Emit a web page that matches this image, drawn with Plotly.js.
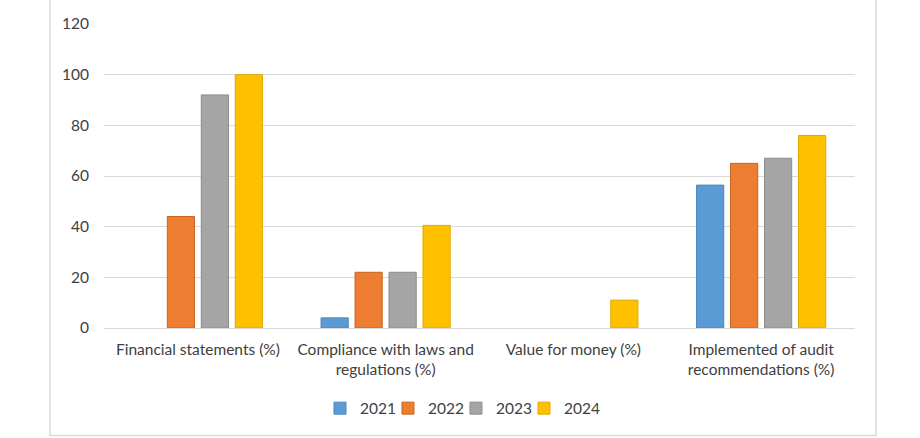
<!DOCTYPE html>
<html>
<head>
<meta charset="utf-8">
<script src="https://cdn.plot.ly/plotly-3.0.1.min.js"></script>
<style>
html,body{margin:0;padding:0;background:#fff;}
#chart{width:920px;height:438px;}
</style>
</head>
<body>
<div id="chart"></div>
<script>
const categories = [
  "Financial statements (%)",
  "Compliance with laws and<br>regulations (%)",
  "Value for money (%)",
  "Implemented of audit<br>recommendations (%)"
];
const years = ["2021", "2022", "2023", "2024"];
const values2021 = [null, 4, null, 56.4];
const values2022 = [44, 22, null, 65];
const values2023 = [92, 22, null, 67];
const values2024 = [100, 40.5, 11, 76];
const yTicks = [0, 20, 40, 60, 80, 100, 120];

const colors = ["#5B9BD5", "#ED7D31", "#A5A5A5", "#FFC000"];
const edges = ["#4A86BE", "#C8651F", "#8C8C8C", "#E0A800"];
const series = [values2021, values2022, values2023, values2024];

const traces = series.map((vals, i) => ({
  type: "bar",
  name: years[i],
  x: categories,
  y: vals,
  legendwidth: i === series.length - 1 ? 44 : 23,
  marker: {color: colors[i], line: {color: edges[i], width: 1}},
  hoverinfo: "x+y+name"
}));

const font = {family: "Lato, 'Open Sans', sans-serif", size: 15.5, color: "#404040"};

const layout = {
  width: 920,
  height: 438,
  margin: {l: 104, r: 65, t: 24, b: 110},
  paper_bgcolor: "#ffffff",
  plot_bgcolor: "#ffffff",
  font: font,
  barmode: "group",
  bargap: 0.276,
  bargroupgap: 0.2,
  showlegend: true,
  legend: {
    orientation: "h",
    x: 0.2876, xanchor: "left",
    y: -0.265, yanchor: "middle",
    font: font,
    itemwidth: 30,
    traceorder: "normal"
  },
  xaxis: {
    type: "category",
    showgrid: false,
    zeroline: false,
    showline: false,
    ticks: "",
    tickfont: font,
    ticklabelstandoff: 10
  },
  yaxis: {
    range: [0, 120],
    tickvals: yTicks,
    ticktext: yTicks.map(String),
    showgrid: true,
    gridcolor: "#d9d9d9",
    gridwidth: 1,
    zeroline: true,
    zerolinecolor: "#d9d9d9",
    zerolinewidth: 1,
    showline: false,
    ticks: "",
    tickfont: font,
    ticklabelstandoff: 14
  },
  shapes: [{
    type: "rect",
    xref: "paper", yref: "paper",
    x0: -0.0719, x1: 1.028,
    y0: -0.3537, y1: 1.09,
    line: {color: "#d9d9d9", width: 1.5},
    fillcolor: "rgba(0,0,0,0)",
    layer: "below"
  }]
};

Plotly.newPlot("chart", traces, layout, {displayModeBar: false, staticPlot: true});
</script>
</body>
</html>
